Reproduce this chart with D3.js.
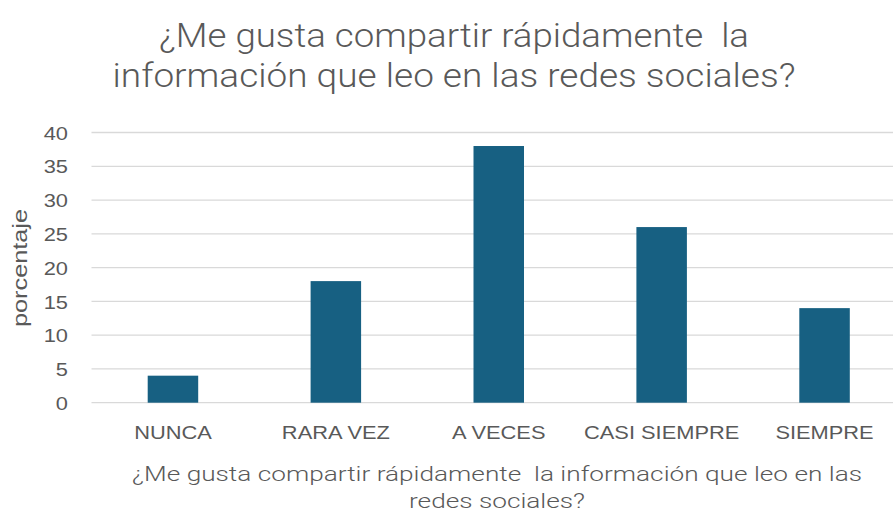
<!DOCTYPE html>
<html>
<head>
<meta charset="utf-8">
<script src="https://cdn.jsdelivr.net/npm/d3@7"></script>
<style>
  body { margin: 0; background: #fff; overflow: hidden; }
  text { fill: #595959; white-space: pre; }
</style>
</head>
<body>
<script>
const categories = ["NUNCA", "RARA VEZ", "A VECES", "CASI SIEMPRE", "SIEMPRE"];
const values = [4, 18, 38, 26, 14];
const yTicks = [0, 5, 10, 15, 20, 25, 30, 35, 40];
const titleLines = ["¿Me gusta compartir rápidamente  la", "información que leo en las redes sociales?"];
const xTitleLines = ["¿Me gusta compartir rápidamente  la información que leo en las", "redes sociales?"];
const yTitle = "porcentaje";

const width = 893;
const height = 514;
const plot = { left: 91.5, right: 906, top: 132.5, bottom: 402.7 };
const tickFont = "'Liberation Sans', Arial, sans-serif";
const titleFont = "Roboto, 'Open Sans', sans-serif";
const stretch = 1.18;

const svg = d3
  .select("body")
  .append("svg")
  .attr("width", width)
  .attr("height", height);

const xScale = d3
  .scaleBand()
  .domain(categories)
  .range([plot.left, plot.right])
  .paddingInner(0.69)
  .paddingOuter(0.345);

const yScale = d3.scaleLinear().domain([0, 40]).range([plot.bottom, plot.top]);

// gridlines
svg
  .append("g")
  .selectAll("line")
  .data(yTicks)
  .enter()
  .append("line")
  .attr("x1", plot.left)
  .attr("x2", plot.right)
  .attr("y1", (d) => yScale(d))
  .attr("y2", (d) => yScale(d))
  .attr("stroke", "#d9d9d9")
  .attr("stroke-width", 1.3);

// bars
svg
  .append("g")
  .selectAll("rect")
  .data(values)
  .enter()
  .append("rect")
  .attr("x", (d, i) => xScale(categories[i]))
  .attr("width", xScale.bandwidth())
  .attr("y", (d) => yScale(d))
  .attr("height", (d) => yScale(0) - yScale(d))
  .attr("fill", "#176082");

// widen tick labels a little to match the original
function widen(sel) {
  sel.each(function () {
    const len = this.getComputedTextLength();
    d3.select(this)
      .attr("textLength", len * stretch)
      .attr("lengthAdjust", "spacingAndGlyphs");
  });
}

// y axis labels
const yAxis = d3.axisLeft(yScale).tickValues(yTicks).tickSize(0).tickPadding(0);
const yG = svg
  .append("g")
  .attr("transform", "translate(" + (plot.left - 23.5) + ",0)")
  .call(yAxis);
yG.select(".domain").remove();
yG.selectAll("text")
  .attr("font-size", "18.5px")
  .attr("font-family", tickFont)
  .attr("fill", "#595959")
  .attr("dy", "0.36em")
  .call(widen);

// x axis labels
const xAxis = d3.axisBottom(xScale).tickSize(0).tickPadding(0);
const xG = svg
  .append("g")
  .attr("transform", "translate(0," + (plot.bottom + 36) + ")")
  .call(xAxis);
xG.select(".domain").remove();
xG.selectAll("text")
  .attr("font-size", "18.5px")
  .attr("font-family", tickFont)
  .attr("fill", "#595959")
  .attr("dy", null)
  .attr("y", 0)
  .call(widen);

// title
const titleWidths = [590, 683];
svg
  .append("g")
  .selectAll("text")
  .data(titleLines)
  .enter()
  .append("text")
  .attr("x", 454)
  .attr("y", (d, i) => 47 + i * 40)
  .attr("text-anchor", "middle")
  .attr("font-family", titleFont)
  .attr("font-weight", 300)
  .attr("font-size", "33px")
  .attr("textLength", (d, i) => titleWidths[i])
  .attr("lengthAdjust", "spacingAndGlyphs")
  .text((d) => d);

// x axis title
const xTitleWidths = [730, 176];
svg
  .append("g")
  .selectAll("text")
  .data(xTitleLines)
  .enter()
  .append("text")
  .attr("x", 497)
  .attr("y", (d, i) => 481 + i * 27)
  .attr("text-anchor", "middle")
  .attr("font-family", titleFont)
  .attr("font-weight", 300)
  .attr("font-size", "20px")
  .attr("textLength", (d, i) => xTitleWidths[i])
  .attr("lengthAdjust", "spacingAndGlyphs")
  .text((d) => d);

// y axis title
svg
  .append("text")
  .attr("transform", "translate(27,268) rotate(-90)")
  .attr("text-anchor", "middle")
  .attr("font-family", tickFont)
  .attr("font-size", "20px")
  .attr("textLength", 118)
  .attr("lengthAdjust", "spacingAndGlyphs")
  .text(yTitle);
</script>
</body>
</html>
